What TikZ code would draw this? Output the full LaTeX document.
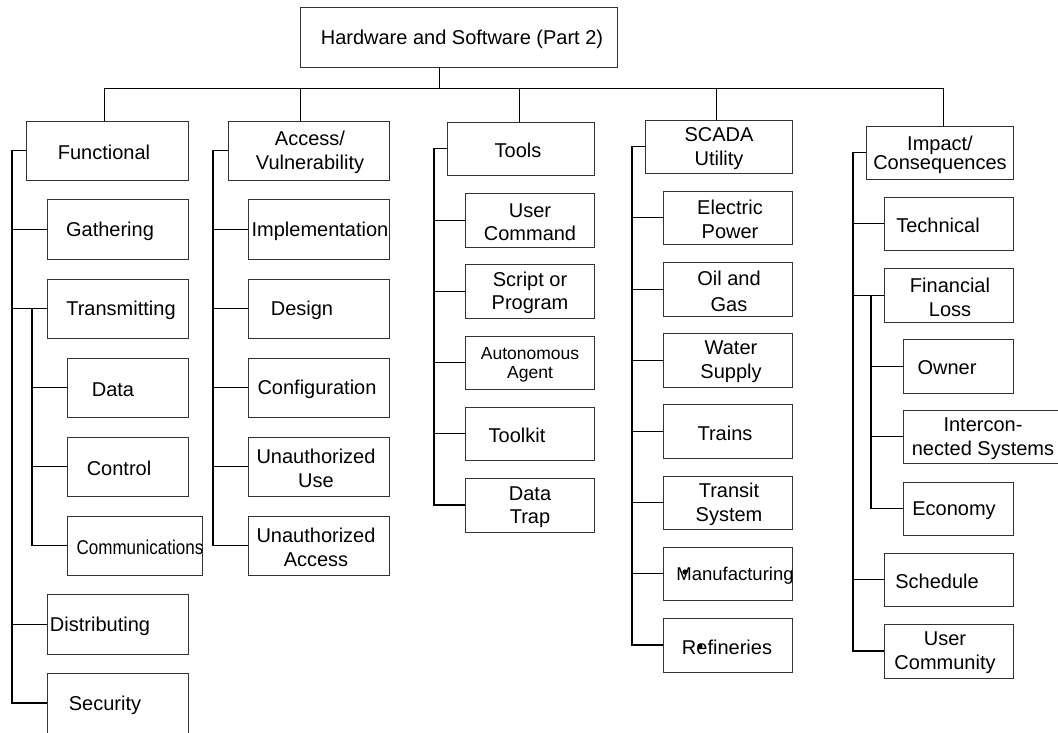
\documentclass[tikz,border=0pt]{standalone}
\usepackage{fontspec}
\setmainfont{Liberation Sans}
\tikzset{
  box/.style={draw=black!80, line width=0.8pt, inner sep=0pt, outer sep=0pt, rectangle},
  lbl/.style={inner sep=0pt, align=center, font=\fontsize{20}{24}\selectfont},
  conn/.style={draw=black, line width=1pt},
  spine/.style={draw=black, line width=1.3pt},
}
\newcommand\bx[8][]{%
  \node[box, minimum width={#5-#3}, minimum height={#6-#4}] (#2) at ({(#3+#5)/2},{(#4+#6)/2}) {};
  \node[lbl,#1] (#2t) at (#7,{(#4+#6)/2+2}) {#8};}
\begin{document}
\begin{tikzpicture}[x=1pt,y=-1pt]
\useasboundingbox (0,0) rectangle (1058,732);
% root and level 1
\bx{root}{300}{7}{617}{67}{462}{Hardware and Software (Part 2)}
\bx{func}{26}{121}{188}{180}{104}{Functional}
\bx{acc}{228}{121}{389}{180}{310}{Access/\\Vulnerability}
\bx{tools}{447}{122}{594}{175}{518}{Tools}
\bx{scada}{645}{120}{792}{173}{719}{SCADA\\Utility}
\bx[font=\fontsize{20}{17}\selectfont]{imp}{866}{126}{1013}{179}{940}{Impact/\\Consequences}
% functional
\bx{gath}{47}{199}{188}{259}{110}{Gathering}
\bx{trans}{47}{279}{188}{338}{121}{Transmitting}
\bx{data}{67}{358}{188}{417}{113}{Data}
\bx{ctrl}{67}{437}{188}{496}{119}{Control}
\bx{comm}{67}{516}{202}{575}{140}{\scalebox{0.85}[1]{Communications}}
\bx{dist}{47}{594}{188}{654}{100}{Distributing}
\bx{sec}{47}{673}{188}{733}{105}{Security}
% access
\bx{impl}{248}{199}{389}{259}{320}{Implementation}
\bx{des}{248}{279}{389}{338}{302}{Design}
\bx{conf}{248}{358}{389}{417}{317}{Configuration}
\bx{uuse}{248}{437}{389}{496}{316}{Unauthorized\\Use}
\bx{uacc}{248}{516}{389}{575}{316}{Unauthorized\\Access}
% tools
\bx[font=\fontsize{20}{23}\selectfont]{ucmd}{465}{193}{594}{247}{530}{User\\Command}
\bx[font=\fontsize{20}{23}\selectfont]{scr}{465}{264}{594}{318}{530}{Script or\\Program}
\bx[font=\fontsize{17.5}{19}\selectfont]{auto}{465}{336}{594}{389}{530}{Autonomous\\Agent}
\bx{tkit}{465}{407}{594}{460}{517}{Toolkit}
\bx[font=\fontsize{20}{23}\selectfont]{dtrap}{465}{478}{594}{532}{530}{Data\\Trap}
% scada
\bx{elec}{663}{191}{792}{244}{730}{Electric\\Power}
\bx[font=\fontsize{20}{26}\selectfont]{oil}{663}{262}{792}{316}{729}{Oil and\\Gas}
\bx{water}{663}{333}{792}{387}{731}{Water\\Supply}
\bx{trains}{663}{404}{792}{458}{725}{Trains}
\bx{transit}{663}{476}{792}{529}{729}{Transit\\System}
\bx[font=\fontsize{18.5}{22}\selectfont]{manu}{663}{547}{792}{600}{735}{Manufacturing}
\bx{ref}{663}{618}{792}{672}{727}{Refineries}
% impact
\bx{tech}{884}{197}{1013}{250}{938}{Technical}
\bx{fin}{884}{268}{1013}{322}{950}{Financial\\Loss}
\bx{own}{903}{339}{1013}{393}{947}{Owner}
\bx{inter}{903}{410}{1066}{463}{983}{Intercon-\\nected Systems}
\bx{econ}{903}{482}{1013}{535}{954}{Economy}
\bx{sched}{884}{553}{1013}{606}{937}{Schedule}
\bx{ucom}{884}{624}{1013}{678}{945}{User\\Community}
% stray dots
\fill (685,572) circle (2.6);
\fill (700,646) circle (2.6);
% top connectors
\coordinate (hb) at (439,88);
\coordinate (d1) at (104,88);
\coordinate (d2) at (300,88);
\coordinate (d3) at (519,88);
\coordinate (d4) at (716,88);
\coordinate (d5) at (943,88);
\draw[conn] (root.south -| hb) -- (hb);
\draw[conn] (d1) -- (d5);
\draw[conn] (d1) -- (func.north -| d1);
\draw[conn] (d2) -- (acc.north -| d2);
\draw[conn] (d3) -- (tools.north -| d3);
\draw[conn] (d4) -- (scada.north -| d4);
\draw[conn] (d5) -- (imp.north -| d5);
% spines
\coordinate (s1) at (12,0);
\coordinate (s1b) at (32,0);
\coordinate (s2) at (213,0);
\coordinate (s3) at (434,0);
\coordinate (s4) at (632,0);
\coordinate (s5) at (853,0);
\coordinate (s5b) at (871,0);
\draw[spine] (func.west) -- (func.west -| s1) -- (sec.west -| s1) -- (sec.west);
\foreach \n in {gath,trans,dist} \draw[conn] (\n.west -| s1) -- (\n.west);
\draw[spine] (trans.west -| s1b) -- (comm.west -| s1b) -- (comm.west);
\foreach \n in {data,ctrl} \draw[conn] (\n.west -| s1b) -- (\n.west);
\draw[spine] (acc.west) -- (acc.west -| s2) -- (uacc.west -| s2) -- (uacc.west);
\foreach \n in {impl,des,conf,uuse} \draw[conn] (\n.west -| s2) -- (\n.west);
\draw[spine] (tools.west) -- (tools.west -| s3) -- (dtrap.west -| s3) -- (dtrap.west);
\foreach \n in {ucmd,scr,auto,tkit} \draw[conn] (\n.west -| s3) -- (\n.west);
\draw[spine] (scada.west) -- (scada.west -| s4) -- (ref.west -| s4) -- (ref.west);
\foreach \n in {elec,oil,water,trains,transit,manu} \draw[conn] (\n.west -| s4) -- (\n.west);
\draw[spine] (imp.west) -- (imp.west -| s5) -- (ucom.west -| s5) -- (ucom.west);
\foreach \n in {tech,fin,sched} \draw[conn] (\n.west -| s5) -- (\n.west);
\draw[spine] (fin.west -| s5b) -- (econ.west -| s5b) -- (econ.west);
\foreach \n in {own,inter} \draw[conn] (\n.west -| s5b) -- (\n.west);
\end{tikzpicture}
\end{document}
